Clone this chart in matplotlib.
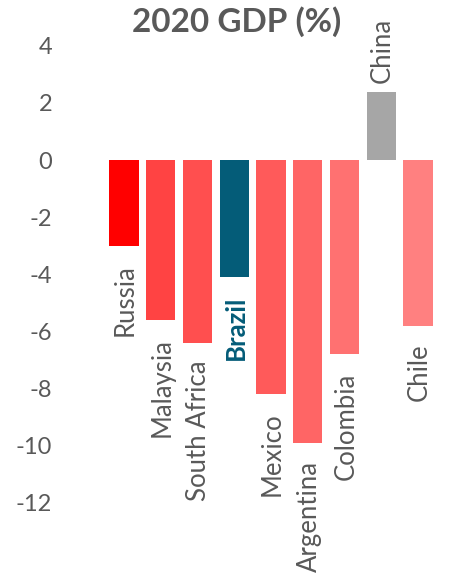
import numpy as np
import matplotlib
matplotlib.use('Agg')
import matplotlib.pyplot as plt

# 2020 GDP growth by country
countries = ['Russia', 'Malaysia', 'South Africa', 'Brazil', 'Mexico',
             'Argentina', 'Colombia', 'China', 'Chile']
gdp = [-3.0, -5.6, -6.4, -4.1, -8.2, -9.9, -6.8, 2.4, -5.8]
colors = ['#FF0000', '#FF4343', '#FF4F4F', '#045C78', '#FF5A5A',
          '#FF6565', '#FF7171', '#A6A6A6', '#FF8080']
yticks = [-12, -10, -8, -6, -4, -2, 0, 2, 4]

grey = '#595959'
plt.rcParams['font.family'] = ['Lato', 'DejaVu Sans']

fig = plt.figure(figsize=(4.54, 5.76), dpi=100)
ax = fig.add_axes([0.121, 0.028, 0.879, 0.942])

x = np.arange(len(countries))
ax.bar(x, gdp, width=0.8, color=colors)

ax.set_xlim(-1.878, 8.98)
ax.set_ylim(-14, 5)
ax.set_yticks(yticks)
ax.set_yticklabels([str(t) for t in yticks], fontsize=17, color=grey)
ax.tick_params(axis='y', length=0, pad=2)
ax.set_xticks([])
for s in ax.spines.values():
    s.set_visible(False)

# country names sit past the end of each bar
for xi, v, name in zip(x, gdp, countries):
    if name == 'Brazil':
        kw = dict(color='#045C78', fontweight='bold')
    else:
        kw = dict(color=grey)
    if v < 0:
        ax.annotate(name, (xi, v), xytext=(1, -13), textcoords='offset points',
                    rotation=90, ha='center', va='top', fontsize=18.5, **kw)
    else:
        ax.annotate(name, (xi, v), xytext=(1, 6), textcoords='offset points',
                    rotation=90, ha='center', va='bottom', fontsize=18.5, **kw)

fig.text(0.522, 0.962, '2020 GDP (%)', ha='center', va='center',
         fontsize=24, fontweight='bold', color=grey)

fig.savefig('out.png', dpi=100)
